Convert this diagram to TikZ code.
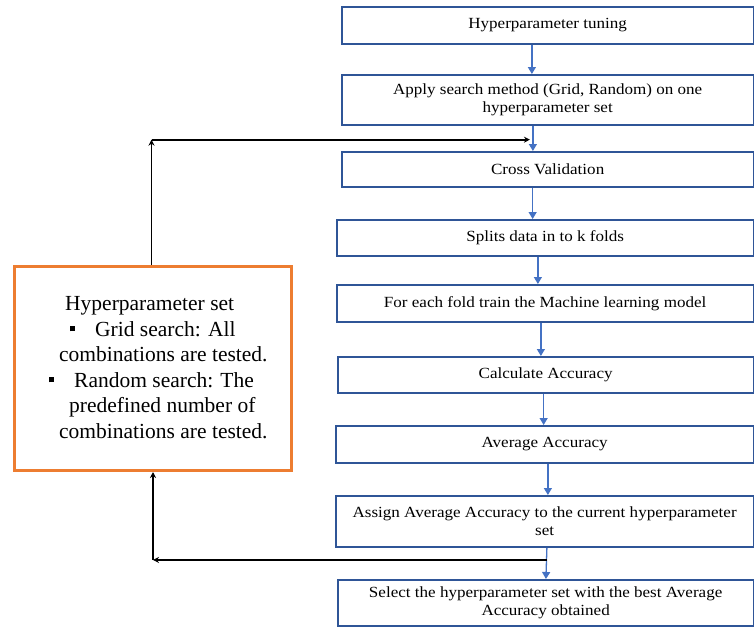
\documentclass[tikz,border=0pt]{standalone}
\usepackage{fontspec}
\setmainfont{Liberation Serif}
\newfontfamily\flowfont{Liberation Serif}[FakeStretch=1.1]
\usetikzlibrary{arrows.meta}

\definecolor{boxblue}{HTML}{2F5597}
\definecolor{arrowblue}{HTML}{4472C4}
\definecolor{setorange}{HTML}{ED7D31}

\tikzset{
  flowbox/.style={draw=boxblue, line width=1.8pt, fill=white, anchor=north west,
    align=center, inner sep=0pt, font=\flowfont\fontsize{15.5}{17.5}\selectfont},
  flowarrow/.style={draw=arrowblue, line width=1.3pt, -{Triangle[width=8pt,length=7pt]}},
  backarrow/.style={draw=black, line width=1.8pt, -{Stealth[width=6pt,length=6pt]}},
  setbox/.style={draw=setorange, line width=3pt, anchor=north west, inner sep=0pt},
  settext/.style={anchor=north west, inner sep=0pt, align=left,
    font=\fontsize{21.5}{25.5}\selectfont},
}
\newcommand{\sqbullet}{\rule[5pt]{5pt}{5pt}}

\begin{document}
\begin{tikzpicture}[x=1pt, y=-1pt]
  \useasboundingbox (0,0) rectangle (754,627);

  % main flow
  \node[flowbox, minimum width=411.5pt, minimum height=37pt] (b1) at (341,6) {Hyperparameter tuning};
  \node[flowbox, minimum width=411.5pt, minimum height=50pt] (b2) at (341,74) {Apply search method (Grid, Random) on one\\hyperparameter set};
  \node[flowbox, minimum width=411.5pt, minimum height=35pt] (b3) at (341,151) {Cross Validation};
  \node[flowbox, minimum width=416.5pt, minimum height=36pt] (b4) at (336,219) {Splits data in to k folds};
  \node[flowbox, minimum width=416.5pt, minimum height=37pt] (b5) at (336,284) {For each fold train the Machine learning model};
  \node[flowbox, minimum width=415.5pt, minimum height=36pt] (b6) at (337,356) {Calculate Accuracy};
  \node[flowbox, minimum width=417.5pt, minimum height=37pt] (b7) at (335,425) {Average Accuracy};
  \node[flowbox, minimum width=417.5pt, minimum height=51pt] (b8) at (335,495) {Assign Average Accuracy to the current hyperparameter\\set};
  \node[flowbox, minimum width=415.5pt, minimum height=46pt] (b9) at (337,579) {Select the hyperparameter set with the best Average\\Accuracy obtained};

  % connectors of the flow
  \draw[flowarrow] ([xshift=-15.75pt]b1.south) -- ([xshift=-15.75pt]b2.north);
  \draw[flowarrow] ([xshift=-14.75pt]b2.south) -- coordinate[pos=0.55] (rejoin) ([xshift=-14.75pt]b3.north);
  \draw[flowarrow] ([xshift=-15pt]b3.south) -- ([xshift=-12.5pt]b4.north);
  \draw[flowarrow] ([xshift=-7.25pt]b4.south) -- ([xshift=-7.25pt]b5.north);
  \draw[flowarrow] ([xshift=-4.25pt]b5.south) -- ([xshift=-4.75pt]b6.north);
  \draw[flowarrow] ([xshift=-2pt]b6.south) -- ([xshift=-1pt]b7.north);
  \draw[flowarrow] ([xshift=3.25pt]b7.south) -- ([xshift=3.25pt]b8.north);
  \draw[flowarrow] ([xshift=2.25pt]b8.south) -- coordinate[pos=0.39] (tap) ([xshift=0.25pt]b9.north);

  % hyperparameter set box
  \node[setbox, minimum width=277pt, minimum height=204pt] (hp) at (13,265) {};
  \node[settext] (hpt) at (49,296.5) {%
    \hspace*{16pt}Hyperparameter set\\
    \hspace*{21pt}\sqbullet\hspace*{20pt}Grid search: All\\
    \hspace*{10pt}combinations are tested.\\
    \sqbullet\hspace*{20pt}Random search: The\\
    \hspace*{20pt}predefined number of\\
    \hspace*{10pt}combinations are tested.};

  % feedback loop
  \draw[backarrow] (tap) -- (tap -| hp.south);
  \draw[backarrow] (tap -| hp.south) -- (hp.south);
  \draw[backarrow] ([xshift=-1.5pt]hp.north) -- ([xshift=-1.5pt]hp.north |- rejoin);
  \draw[backarrow, shorten >=3pt] ([xshift=-1.5pt]hp.north |- rejoin) -- (rejoin);
\end{tikzpicture}
\end{document}
